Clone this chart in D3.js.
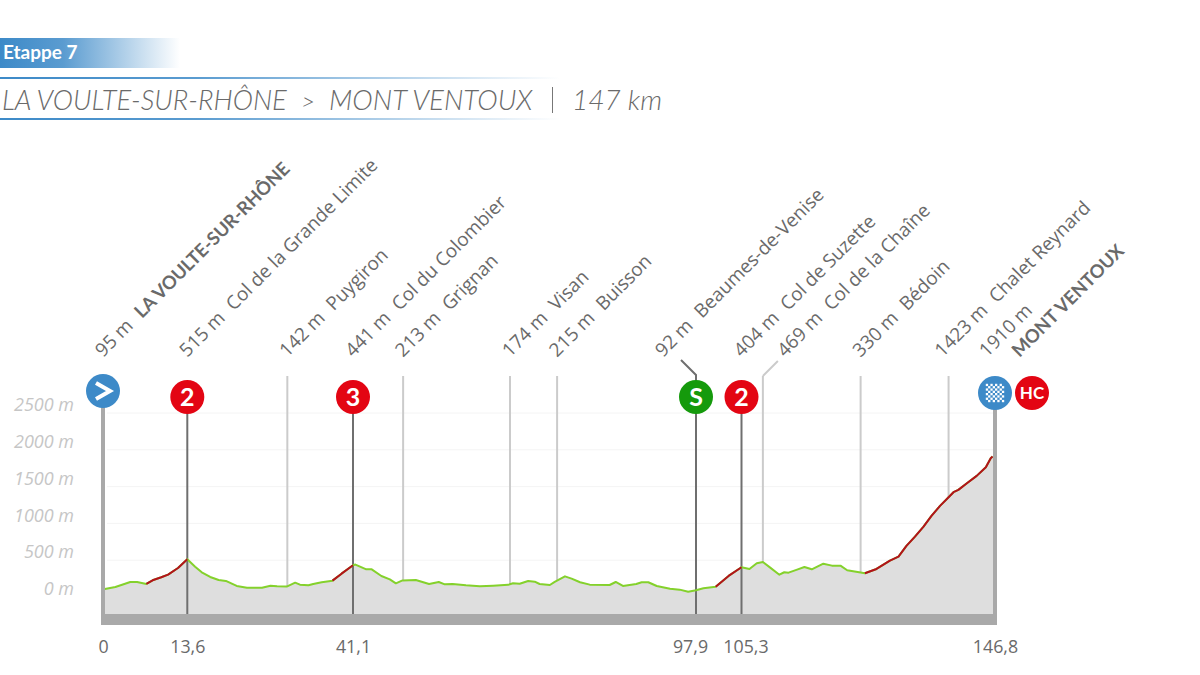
<!DOCTYPE html>
<html>
<head>
<meta charset="utf-8">
<script src="https://cdn.jsdelivr.net/npm/d3@7"></script>
<style>
  body { margin: 0; background: #fff; }
  svg { display: block; }
</style>
</head>
<body>
<div id="profile"></div>
<script>
const stageLabel = 'Etappe 7';
const stageStart = 'LA VOULTE-SUR-RHÔNE';
const stageEnd = 'MONT VENTOUX';
const stageLength = '147 km';

// elevation profile
const profileKm = [0, 0.3, 2, 4.4, 5.5, 7, 8, 9.4, 10.5, 12.1, 13.6, 14.9, 16, 17.4, 18.8, 20, 21.8, 23.5, 26, 27.4, 28.5, 30.1, 31.5, 32.3, 33.7, 34.5, 35.9, 37.7, 39.2, 41.1, 41.5, 43.3, 44.2, 45.8, 47.2, 48.2, 49.3, 51.5, 53.7, 55.3, 56.3, 57.6, 59.8, 62.1, 64.3, 66.8, 67.6, 68.7, 70.1, 71.2, 72, 73.7, 74.5, 76.2, 77.3, 78.7, 80.3, 83.6, 84.6, 85.8, 88, 88.9, 90, 91.4, 93.6, 95.2, 96.6, 97.9, 99.1, 101.1, 103.2, 105.3, 106.6, 107.8, 108.8, 110, 111.5, 112.3, 113, 114.4, 115.6, 116.8, 118.7, 120.1, 121.5, 122.6, 124.8, 125.5, 127.4, 129.6, 131, 132.3, 133.7, 135.1, 136.4, 137.8, 139.2, 140, 140.8, 142.2, 143.8, 145.3, 146.1, 146.4];
const profileElev = [95, 109, 136, 204, 204, 177, 227, 268, 304, 394, 512, 412, 336, 272, 231, 218, 150, 127, 127, 154, 145, 142, 195, 168, 159, 177, 200, 222, 317, 431, 441, 376, 376, 286, 240, 186, 225, 231, 177, 204, 172, 177, 159, 145, 154, 165, 186, 181, 218, 208, 177, 163, 205, 281, 249, 200, 168, 163, 204, 150, 177, 200, 200, 150, 113, 100, 72, 92, 118, 140, 286, 404, 381, 458, 475, 399, 303, 336, 331, 372, 408, 376, 453, 426, 426, 363, 332, 322, 381, 494, 548, 694, 820, 956, 1102, 1238, 1356, 1424, 1455, 1546, 1646, 1764, 1886, 1908];

// km ranges drawn in red
const climbStart = [7, 37.7, 101.1, 125.5];
const climbEnd = [13.6, 41.1, 105.3, 146.4];

const elevTicks = [0, 500, 1000, 1500, 2000, 2500];
const kmTicks = [0, 13.6, 41.1, 97.9, 105.3, 146.8];
const kmTickLabels = ['0', '13,6', '41,1', '97,9', '105,3', '146,8'];

// places along the route
const placeKm = [0, 13.6, 30.2, 41.1, 49.4, 67.1, 74.9, 97.9, 105.3, 108.8, 124.8, 139.2, 146.8];
const placeElev = ['95 m', '515 m', '142 m', '441 m', '213 m', '174 m', '215 m', '92 m', '404 m', '469 m', '330 m', '1423 m', '1910 m'];
const placeName = ['LA VOULTE-SUR-RHÔNE', 'Col de la Grande Limite', 'Puygiron', 'Col du Colombier', 'Grignan', 'Visan', 'Buisson', 'Beaumes-de-Venise', 'Col de Suzette', 'Col de la Chaîne', 'Bédoin', 'Chalet Reynard', 'MONT VENTOUX'];

// classified points
const badgeKm = [13.6, 41.1, 97.9, 105.3];
const badgeText = ['2', '3', 'S', '2'];
const badgeKind = ['climb', 'climb', 'sprint', 'climb'];

const width = 1200;
const height = 675;
const textColor = '#6a6a6a';
const barColor = '#a9a9a9';
const colors = { climb: '#e30513', sprint: '#159a0c', blue: '#3d8ac8', green: '#84d12c', red: '#b3111c' };
const labelFont = '"Open Sans", sans-serif';
const titleFont = 'Lato, sans-serif';

const x = d3.scaleLinear()
  .domain(kmTicks)
  .range([103, 187.3, 353, 696, 741.5, 995]);

const y = d3.scaleLinear()
  .domain([0, 2500])
  .range([597, 413]);

const floorY = 614;
const profile = profileKm.map((km, i) => ({ km, elev: profileElev[i] }));
const elevAt = km => {
  const i = d3.bisector(d => d.km).left(profile, km);
  if (i <= 0) return profile[0].elev;
  if (i >= profile.length) return profile[profile.length - 1].elev;
  const a = profile[i - 1], b = profile[i];
  return a.elev + (b.elev - a.elev) * (km - a.km) / (b.km - a.km);
};

const svg = d3.select('#profile')
  .append('svg')
  .attr('width', width)
  .attr('height', height)
  .attr('viewBox', [0, 0, width, height]);

const defs = svg.append('defs');
const fade = defs.append('linearGradient').attr('id', 'fade');
fade.append('stop').attr('offset', '0%').attr('stop-color', colors.blue).attr('stop-opacity', 1);
fade.append('stop').attr('offset', '35%').attr('stop-color', colors.blue).attr('stop-opacity', 0.85);
fade.append('stop').attr('offset', '100%').attr('stop-color', colors.blue).attr('stop-opacity', 0);

// header
svg.append('rect')
  .attr('x', 0).attr('y', 38)
  .attr('width', 180).attr('height', 30)
  .attr('fill', 'url(#fade)');

svg.append('text')
  .attr('x', 3).attr('y', 59)
  .attr('fill', '#fff')
  .style('font', `bold 19px ${titleFont}`)
  .text(stageLabel);

svg.selectAll('.rule')
  .data([78, 119])
  .join('rect')
  .attr('class', 'rule')
  .attr('x', 0).attr('y', d => d - 1)
  .attr('width', 560).attr('height', 2)
  .attr('fill', 'url(#fade)');

const addTitle = (px, str, size) => svg.append('text')
  .attr('x', px).attr('y', 110)
  .attr('fill', textColor)
  .style('font', `italic 300 ${size}px ${titleFont}`)
  .text(str);
addTitle(2, stageStart, 27.4);
addTitle(301, '>', 24);
addTitle(329, stageEnd, 27.7);
addTitle(572, stageLength, 28);

svg.append('line')
  .attr('x1', 552.5).attr('x2', 552.5)
  .attr('y1', 87).attr('y2', 113)
  .attr('stroke', '#777')
  .attr('stroke-width', 1);

// grid
svg.append('g')
  .selectAll('line')
  .data(elevTicks.slice(1))
  .join('line')
  .attr('x1', 107).attr('x2', x(146.8))
  .attr('y1', d => y(d)).attr('y2', d => y(d))
  .attr('stroke', '#f4f4f4');

// profile
const area = d3.area()
  .x(d => x(d.km))
  .y0(floorY)
  .y1(d => y(d.elev));

svg.append('path')
  .datum([...profile, { km: 146.8, elev: profileElev[profileElev.length - 1] }])
  .attr('fill', '#dedede')
  .attr('d', area);

// place lines
const leaderLine = d3.line();
const placeLines = svg.append('g').attr('fill', 'none');
placeKm.forEach(km => {
  if (km === 0 || km === 146.8 || badgeKm.includes(km)) return;
  placeLines.append('line')
    .attr('x1', x(km)).attr('x2', x(km))
    .attr('y1', 376).attr('y2', y(elevAt(km)))
    .attr('stroke', '#cbcbcb')
    .attr('stroke-width', 2);
});

// leader towards the shifted labels
placeLines.append('path')
  .attr('d', leaderLine([[x(108.8), 376], [x(108.8) + 15, 361]]))
  .attr('stroke', '#cbcbcb')
  .attr('stroke-width', 2);
placeLines.append('path')
  .attr('d', leaderLine([[x(97.9), 381], [x(97.9), 375], [x(97.9) - 15, 360]]))
  .attr('stroke', '#6f6f6f')
  .attr('stroke-width', 2);

svg.append('g')
  .selectAll('line')
  .data(badgeKm)
  .join('line')
  .attr('x1', d => x(d)).attr('x2', d => x(d))
  .attr('y1', 410).attr('y2', floorY)
  .attr('stroke', '#6f6f6f')
  .attr('stroke-width', 2);

// elevation line, green with the climbs in red on top
const line = d3.line()
  .x(d => x(d.km))
  .y(d => y(d.elev));

svg.append('path')
  .attr('fill', 'none')
  .attr('stroke', colors.green)
  .attr('stroke-width', 2)
  .attr('stroke-linejoin', 'round')
  .attr('d', line(profile));

svg.append('g')
  .selectAll('path')
  .data(climbStart.map((s, i) => profile.filter(d => d.km >= s && d.km <= climbEnd[i])))
  .join('path')
  .attr('fill', 'none')
  .attr('stroke', colors.red)
  .attr('stroke-width', 2)
  .attr('stroke-linejoin', 'round')
  .attr('d', line);

// frame
svg.append('rect')
  .attr('x', 101).attr('y', floorY)
  .attr('width', 896).attr('height', 11)
  .attr('fill', barColor);
svg.append('rect')
  .attr('x', 101).attr('y', 400)
  .attr('width', 4).attr('height', floorY - 400)
  .attr('fill', barColor);
svg.append('rect')
  .attr('x', 993).attr('y', 400)
  .attr('width', 4).attr('height', floorY - 400)
  .attr('fill', barColor);

// axes
const yAxis = d3.axisLeft(y)
  .tickValues(elevTicks)
  .tickSize(0)
  .tickPadding(0)
  .tickFormat(d => `${d} m`);

svg.append('g')
  .attr('transform', 'translate(74,-8)')
  .call(yAxis)
  .call(g => g.select('.domain').remove())
  .call(g => g.selectAll('text')
    .attr('fill', '#c6c6c6')
    .style('font', `italic 18px ${labelFont}`));

const xAxis = d3.axisBottom(x)
  .tickValues(kmTicks)
  .tickSize(0)
  .tickPadding(0)
  .tickFormat((d, i) => kmTickLabels[i]);

// the two close km labels are pushed apart
const tickNudge = { 97.9: -6, 105.3: 4 };

svg.append('g')
  .attr('transform', 'translate(0,640)')
  .call(xAxis)
  .call(g => g.select('.domain').remove())
  .call(g => g.selectAll('text')
    .attr('dx', d => tickNudge[d] ?? 0)
    .attr('fill', textColor)
    .style('font', `17.8px ${labelFont}`));

// badges
const badge = svg.append('g')
  .selectAll('g')
  .data(badgeKm)
  .join('g')
  .attr('transform', d => `translate(${x(d)},397)`);

badge.append('circle')
  .attr('r', 17)
  .attr('fill', (d, i) => colors[badgeKind[i]]);

badge.append('text')
  .attr('text-anchor', 'middle')
  .attr('y', 9)
  .attr('fill', '#fff')
  .style('font', `bold 25px ${titleFont}`)
  .text((d, i) => badgeText[i]);

const startBadge = svg.append('g').attr('transform', `translate(${x(0)},391)`);
startBadge.append('circle').attr('r', 17).attr('fill', colors.blue);
startBadge.append('path')
  .attr('d', 'M-7,-8L7,0L-7,8')
  .attr('fill', 'none')
  .attr('stroke', '#fff')
  .attr('stroke-width', 4);

const finishBadge = svg.append('g').attr('transform', `translate(${x(146.8)},393)`);
finishBadge.append('circle').attr('r', 17).attr('fill', colors.blue);
finishBadge.append('g')
  .selectAll('rect')
  .data(d3.cross(d3.range(-4, 4), d3.range(-4, 4)).filter(d => (d[0] + d[1]) % 2 === 0))
  .join('rect')
  .attr('x', d => d[0] * 2.3)
  .attr('y', d => d[1] * 2.3)
  .attr('width', 2.3)
  .attr('height', 2.3)
  .attr('fill', '#fff');

const hcBadge = svg.append('g').attr('transform', `translate(${x(146.8) + 37},393)`);
hcBadge.append('circle').attr('r', 17).attr('fill', colors.climb);
hcBadge.append('text')
  .attr('text-anchor', 'middle')
  .attr('y', 6)
  .attr('fill', '#fff')
  .style('font', `bold 17px ${titleFont}`)
  .text('HC');

// rotated place labels
const labelShift = { 'Beaumes-de-Venise': -37, 'Col de la Chaîne': 18, 'Chalet Reynard': -10, 'MONT VENTOUX': -12 };
const bigNames = [stageStart, stageEnd];

const labels = svg.append('g')
  .selectAll('text')
  .data(placeName)
  .join('text')
  .attr('fill', textColor)
  .attr('transform', (d, i) => `translate(${x(placeKm[i]) + (labelShift[d] ?? -4) + 4},358) rotate(-45)`)
  .style('font', `18.9px ${labelFont}`);

labels.append('tspan')
  .text((d, i) => placeElev[i]);

labels.append('tspan')
  .attr('x', d => d === stageEnd ? 23 : null)
  .attr('y', d => d === stageEnd ? 23 : null)
  .attr('dx', d => d === stageEnd ? 0 : 11)
  .style('font', d => bigNames.includes(d) ? `bold 18.4px ${titleFont}` : null)
  .text(d => d);
</script>
</body>
</html>
